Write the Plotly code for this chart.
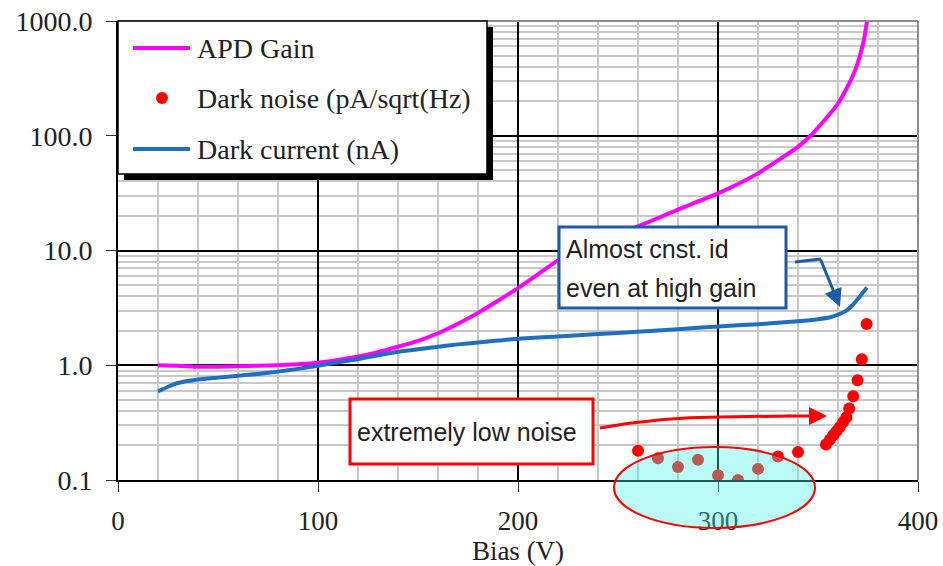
import plotly.graph_objects as go

# ---------------- data ----------------
gain_bias = [20, 30, 40, 50, 60, 70, 80, 90, 100, 110, 120, 130, 140, 150, 160, 170, 180, 190,
             200, 210, 220, 230, 240, 250, 260, 270, 280, 290, 300, 310, 320, 330, 340, 347,
             353, 359, 363, 366, 369, 371, 373, 374.5]
gain_vals = [1.00, 0.99, 0.97, 0.97, 0.98, 0.99, 1.00, 1.02, 1.05, 1.11, 1.19, 1.30, 1.45, 1.63,
             1.90, 2.30, 2.86, 3.65, 4.70, 6.20, 8.20, 10.0, 11.8, 13.8, 16.2, 19.2, 22.7, 26.8,
             31.5, 38.0, 47.0, 61.0, 80.0, 103.0, 135.0, 180.0, 235.0, 295.0, 390.0, 500.0,
             690.0, 1000.0]

current_bias = [20, 25, 30, 40, 50, 60, 70, 80, 90, 100, 110, 120, 130, 140, 150, 160, 170, 180,
                190, 200, 220, 240, 260, 280, 300, 320, 340, 350, 356, 360, 364, 367, 370, 372,
                374.5]
current_vals = [0.59, 0.65, 0.70, 0.75, 0.78, 0.81, 0.84, 0.88, 0.93, 0.99, 1.06, 1.13, 1.22,
                1.31, 1.38, 1.45, 1.52, 1.58, 1.64, 1.70, 1.78, 1.87, 1.96, 2.06, 2.18, 2.28,
                2.42, 2.52, 2.62, 2.76, 2.98, 3.30, 3.80, 4.20, 4.75]

noise_bias = [260, 270, 280, 290, 300, 310, 320, 330, 340, 354, 356, 357.6, 359.2, 360.9,
              362.6, 364.2, 365.6, 367.6, 369.8, 371.9, 374.3]
noise_vals = [0.18, 0.155, 0.13, 0.15, 0.11, 0.10, 0.125, 0.16, 0.175, 0.204, 0.225, 0.245,
              0.266, 0.29, 0.32, 0.352, 0.419, 0.537, 0.74, 1.13, 2.29]

x_ticks = [0, 100, 200, 300, 400]
y_ticks = [0.1, 1, 10, 100, 1000]
y_ticktext = ["0.1", "1.0", "10.0", "100.0", "1000.0"]

legend_labels = ["APD Gain", "Dark noise (pA/sqrt(Hz)", "Dark current (nA)"]
box1_lines = ["Almost cnst. id", "even at high gain"]
box2_text = "extremely low noise"

# ---------------- geometry helpers (layout only) ----------------
W_, H_ = 943, 566
# plot area in pixels
PL, PR, PT, PB = 118, 918, 21, 480
PW, PH = PR - PL, PB - PT


def px(x):
    return (x - PL) / PW


def py(y):
    return (PB - y) / PH


MAGENTA = "#ff00ff"
BLUE = "#1f6fbf"
RED = "#ff0000"
BOXBLUE = "#1f5aa6"
SERIF = "Liberation Serif"
SANS = "Liberation Sans"
TXT = "#222"

fig = go.Figure()
fig.add_trace(go.Scatter(x=gain_bias, y=gain_vals, mode="lines", name=legend_labels[0],
                         line=dict(color=MAGENTA, width=4, shape="spline", smoothing=0.6),
                         showlegend=False))
fig.add_trace(go.Scatter(x=noise_bias, y=noise_vals, mode="markers", name=legend_labels[1],
                         marker=dict(color=RED, size=12), showlegend=False))
fig.add_trace(go.Scatter(x=current_bias, y=current_vals, mode="lines", name=legend_labels[2],
                         line=dict(color=BLUE, width=4, shape="spline", smoothing=0.6),
                         showlegend=False))

minor_y = [m * 10 ** e for e in range(-1, 3) for m in range(2, 10)]

fig.update_xaxes(range=[0, 400], tickvals=x_ticks, ticks="outside", ticklen=10,
                 tickcolor="#333", tickwidth=1, showgrid=True, gridcolor="black", gridwidth=2,
                 minor=dict(dtick=20, showgrid=True, gridcolor="#c8c8c8", gridwidth=2, ticks=""),
                 showline=True, linecolor="black", linewidth=2, zeroline=False,
                 tickfont=dict(family=SERIF, size=27, color=TXT),
                 ticklabelstandoff=6, automargin=False, ticklabeloverflow="allow",
                 title=dict(text="Bias (V)", font=dict(family=SERIF, size=27, color=TXT),
                            standoff=12))
fig.update_yaxes(type="log", range=[-1, 3], tickvals=y_ticks, ticktext=y_ticktext,
                 ticks="outside", ticklen=10, tickcolor="#333", tickwidth=1,
                 showgrid=True, gridcolor="black", gridwidth=2,
                 minor=dict(tickvals=minor_y, showgrid=True, gridcolor="#c8c8c8", gridwidth=2,
                            ticks=""),
                 showline=True, linecolor="black", linewidth=2, zeroline=False,
                 tickfont=dict(family=SERIF, size=28, color=TXT),
                 ticklabelstandoff=8, automargin=False, ticklabeloverflow="allow")

shapes = []
# gray top/right frame
shapes.append(dict(type="line", xref="paper", yref="paper", x0=0, x1=1, y0=1, y1=1,
                   line=dict(color="#8c8c8c", width=2), layer="above"))
shapes.append(dict(type="line", xref="paper", yref="paper", x0=1, x1=1, y0=0, y1=1,
                   line=dict(color="#8c8c8c", width=2), layer="above"))
# ellipse highlighting low noise
shapes.append(dict(type="circle", xref="paper", yref="paper", x0=px(614), x1=px(815),
                   y0=py(528), y1=py(447), fillcolor="rgba(68,243,230,0.37)",
                   line=dict(color=RED, width=2), layer="above"))
# legend shadow + box
shapes.append(dict(type="rect", xref="paper", yref="paper", x0=px(124), x1=px(493),
                   y0=py(180), y1=py(27), fillcolor="black", line=dict(width=0), layer="above"))
shapes.append(dict(type="rect", xref="paper", yref="paper", x0=px(118), x1=px(487),
                   y0=py(174), y1=py(21), fillcolor="white", line=dict(color="black", width=1.5),
                   layer="above"))
shapes.append(dict(type="line", xref="paper", yref="paper", x0=px(133), x1=px(190),
                   y0=py(48), y1=py(48), line=dict(color=MAGENTA, width=4), layer="above"))
shapes.append(dict(type="circle", xref="paper", yref="paper", x0=px(156), x1=px(168),
                   y0=py(104), y1=py(92), fillcolor=RED, line=dict(width=0), layer="above"))
shapes.append(dict(type="line", xref="paper", yref="paper", x0=px(133), x1=px(190),
                   y0=py(149), y1=py(149), line=dict(color=BLUE, width=4), layer="above"))
# blue box
shapes.append(dict(type="rect", xref="paper", yref="paper", x0=px(559), x1=px(786),
                   y0=py(308), y1=py(227), fillcolor="white", line=dict(color=BOXBLUE, width=3),
                   layer="above"))
# red box
shapes.append(dict(type="rect", xref="paper", yref="paper", x0=px(350), x1=px(593),
                   y0=py(464), y1=py(399), fillcolor="white", line=dict(color=RED, width=3),
                   layer="above"))
# blue arrow first segment
shapes.append(dict(type="path", xref="paper", yref="paper",
                   path=f"M {px(795)},{py(262)} L {px(821)},{py(259)}",
                   line=dict(color=BOXBLUE, width=3), layer="above"))
# red arrow curved body
shapes.append(dict(type="path", xref="paper", yref="paper",
                   path=f"M {px(600)},{py(428)} Q {px(660)},{py(417)} {px(720)},{py(417)} L {px(790)},{py(416)}",
                   line=dict(color=RED, width=3), layer="above"))

annotations = []
for lab, yy in zip(legend_labels, [48, 98, 149]):
    annotations.append(dict(xref="paper", yref="paper", x=px(195), y=py(yy), text=lab,
                            showarrow=False, xanchor="left", yanchor="middle",
                            font=dict(family=SERIF, size=28, color=TXT)))
for line_txt, yy in zip(box1_lines, [249, 288]):
    annotations.append(dict(xref="paper", yref="paper", x=px(564), y=py(yy), text=line_txt,
                            showarrow=False, xanchor="left", yanchor="middle",
                            font=dict(family=SANS, size=25, color=TXT)))
annotations.append(dict(xref="paper", yref="paper", x=px(355), y=py(432), text=box2_text,
                        showarrow=False, xanchor="left", yanchor="middle",
                        font=dict(family=SANS, size=25, color=TXT)))
# arrowheads
annotations.append(dict(xref="paper", yref="paper", x=px(840), y=py(307), text="",
                        showarrow=True, ax=-20, ay=-49, arrowhead=2, arrowsize=1.2,
                        arrowwidth=3, arrowcolor=BOXBLUE))
annotations.append(dict(xref="paper", yref="paper", x=px(827), y=py(416), text="",
                        showarrow=True, ax=-40, ay=0, arrowhead=2, arrowsize=1.2,
                        arrowwidth=3, arrowcolor=RED))

fig.update_layout(width=W_, height=H_,
                  margin=dict(l=PL, r=W_ - PR, t=PT, b=H_ - PB),
                  paper_bgcolor="white", plot_bgcolor="white", shapes=shapes,
                  annotations=annotations, font=dict(family=SERIF, size=28, color=TXT))

# remove the default 8px page margin so the figure fills the window exactly
fig.write_html("out.html", config={"displayModeBar": False},
               post_script="document.body.style.margin='0';document.body.style.overflow='hidden';")
